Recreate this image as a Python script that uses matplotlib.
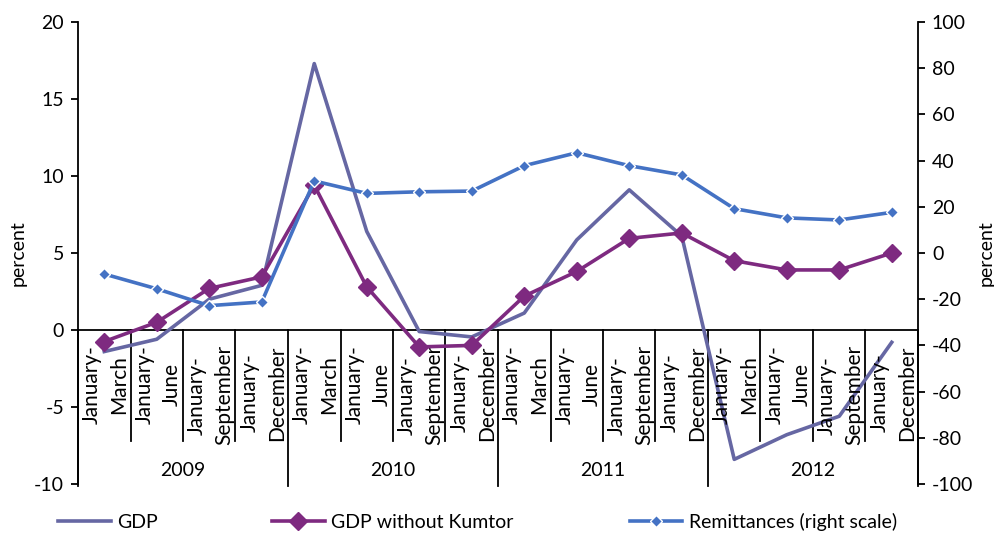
"""Quarterly growth: GDP, GDP without Kumtor, and remittances (right scale).

Cumulative year-to-date periods for 2009-2012, grouped by year on a
two-level category axis that sits on the zero line.
"""

import matplotlib

matplotlib.use("Agg")
import matplotlib.pyplot as plt
import numpy as np

YEARS = ["2009", "2010", "2011", "2012"]
PERIODS = ["January-\nMarch", "January-\nJune", "January-\nSeptember", "January-\nDecember"]

gdp = [-1.4, -0.6, 2.0, 2.9, 17.3, 6.4, -0.1, -0.45,
       1.1, 5.85, 9.1, 6.1, -8.4, -6.8, -5.6, -0.8]
gdp_ex_kumtor = [-0.75, 0.5, 2.7, 3.45, 9.4, 2.8, -1.1, -1.0,
                 2.2, 3.8, 5.95, 6.3, 4.5, 3.9, 3.9, 5.0]
remittances = [-9.1, -15.5, -22.8, -21.2, 31.2, 25.8, 26.5, 26.8,
               37.8, 43.4, 37.8, 33.8, 19.2, 15.2, 14.3, 17.6]

C_GDP = "#6667a3"
C_KUMTOR = "#7e2a80"
C_REMIT = "#4472c4"
FS = 14
FS_CAT = 15

plt.rcParams["font.family"] = ["Lato", "DejaVu Sans"]
plt.rcParams["font.size"] = FS
plt.rcParams["axes.unicode_minus"] = False

W, H = 995, 535
fig = plt.figure(figsize=(W / 100, H / 100), dpi=100)
ax = fig.add_axes([78 / W, 1 - 484 / H, 840 / W, 462 / H])
ax2 = ax.twinx()

x = np.arange(len(YEARS) * len(PERIODS))
l_gdp, = ax.plot(x, gdp, color=C_GDP, lw=2.6, label="GDP", zorder=3)
l_kum, = ax.plot(x, gdp_ex_kumtor, color=C_KUMTOR, lw=2.6, marker="D",
                 ms=9, mec=C_KUMTOR, label="GDP without Kumtor", zorder=4)
l_rem, = ax2.plot(x, remittances, color=C_REMIT, lw=2.6, marker="D", ms=6.5,
                  mec="white", mew=1.0, label="Remittances (right scale)")

ax.set_xlim(-0.5, x[-1] + 0.5)
ax.set_ylim(-10, 20)
ax.set_yticks(np.arange(-10, 21, 5))
ax2.set_ylim(-100, 100)
ax2.set_yticks(np.arange(-100, 101, 20))

for a in (ax, ax2):
    a.set_xticks([])
    for side in ("top", "bottom"):
        a.spines[side].set_visible(False)
    a.tick_params(axis="y", direction="out", length=5, width=1.3,
                  labelsize=FS, pad=5)
ax.spines["right"].set_visible(False)
ax2.spines["left"].set_visible(False)
ax.spines["left"].set_linewidth(1.3)
ax2.spines["right"].set_linewidth(1.3)

fig.text(18 / W, 1 - 253 / H, "percent", rotation=90, ha="center",
         va="center", fontsize=FS)
fig.text(986 / W, 1 - 253 / H, "percent", rotation=90, ha="center",
         va="center", fontsize=FS)

# category axis along y = 0
ax.axhline(0, color="black", lw=1.3, zorder=2)
n_per = len(PERIODS)
for k in range(len(x) + 1):
    edge = k - 0.5
    bottom = -10.1 if k % n_per == 0 else -7.2
    ax.plot([edge, edge], [0, bottom], color="black", lw=1.3,
            clip_on=False, zorder=2)
for i in x:
    ax.annotate(PERIODS[i % n_per], xy=(i, 0), xytext=(1, -11),
                textcoords="offset points", rotation=90, ha="center",
                va="top", multialignment="center", fontsize=FS_CAT,
                linespacing=1.45)
for j, year in enumerate(YEARS):
    ax.text(j * n_per + (n_per - 1) / 2, -9.1, year, ha="center",
            va="center", fontsize=FS)

# legend entries sit at fixed spots along the bottom edge
for handle, x0 in ((l_gdp, 58), (l_kum, 272), (l_rem, 630)):
    fig.legend(handles=[handle], loc="center left",
               bbox_to_anchor=(x0 / W, 1 - 522 / H), frameon=False,
               fontsize=FS, handlelength=2.7, handletextpad=0.35,
               borderpad=0, borderaxespad=0)

fig.savefig("out.png", dpi=100)
